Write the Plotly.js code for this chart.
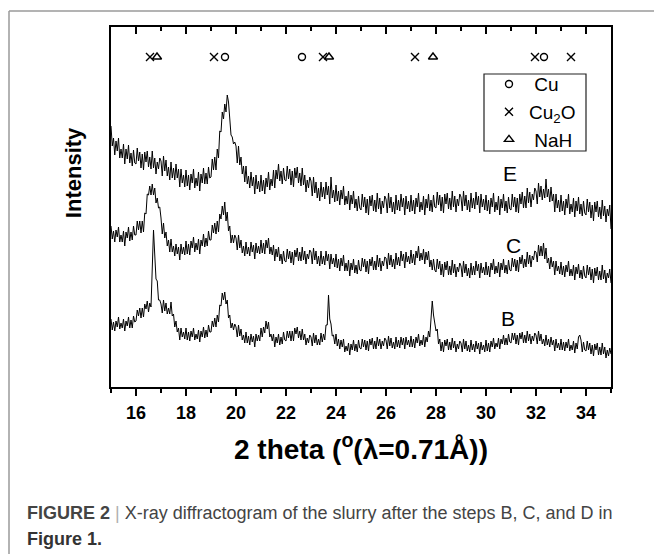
<!DOCTYPE html>
<html>
<head>
<meta charset="utf-8">
<script src="https://cdn.plot.ly/plotly-3.0.1.min.js"></script>
<style>
  html, body { margin: 0; padding: 0; background: #ffffff; }
  #chart { width: 654px; height: 554px; }
</style>
</head>
<body>
<div id="chart"></div>
<script>
// ---- sampling grid of 2-theta (degrees) ----
var twoThetaStart = 15.0;
var twoThetaStep = 0.05;

// ---- intensities (arbitrary units, curves stacked) ----
// one row per degree of 2-theta (15, 16, ... 34), plus the final point at 35
var intensityE = [
261,241,249,232,246,236,249,229,238,229,243,223,238,228,242,224,234,221,237,224,
223,239,226,235,219,233,217,235,225,236,220,230,218,236,219,229,213,225,218,229,
226,211,231,216,227,211,220,207,225,209,219,207,223,209,218,200,218,204,212,200,
217,201,212,197,213,204,218,199,209,201,215,196,213,204,219,203,214,203,220,209,
210,228,217,230,217,238,229,256,255,275,268,283,275,292,285,270,252,250,243,245,
241,224,241,222,230,213,221,205,221,203,211,199,215,201,210,193,212,198,206,195,
212,196,207,193,209,200,215,197,208,201,217,199,217,208,223,206,216,203,219,207,
206,221,208,218,202,216,200,219,209,220,204,214,201,219,202,212,195,207,199,210,
206,191,210,194,205,189,199,186,205,190,200,188,205,192,201,183,210,189,197,185,
202,186,196,182,197,188,201,182,191,183,196,177,192,183,196,179,188,176,191,179,
177,193,180,190,174,188,172,191,181,192,176,187,175,194,178,189,173,186,179,191,
188,174,194,179,190,175,185,173,192,177,187,176,193,180,189,172,191,178,186,175,
192,176,187,173,189,180,194,175,185,177,191,172,188,179,193,176,187,175,192,180,
179,195,182,192,176,190,174,193,183,194,178,189,177,196,180,191,175,188,181,193,
190,176,196,181,192,177,187,175,194,179,189,178,195,182,191,174,193,180,188,177,
192,176,187,173,189,180,194,175,185,177,191,172,188,179,193,176,186,174,190,178,
177,193,180,190,175,189,174,193,183,195,179,191,179,199,184,195,180,193,187,199,
196,183,204,190,201,187,198,189,208,190,198,185,200,186,193,175,193,179,187,175,
192,176,186,172,188,179,193,173,183,175,189,170,186,176,190,173,183,171,186,174,
172,188,175,185,169,182,166,185,175,186,170,180,168,187,171,181,165,178,171,182,
158];

var intensityC = [
161,148,156,145,157,150,160,145,152,145,156,141,155,149,160,146,155,147,161,152,
152,166,157,166,154,166,155,174,173,193,192,201,192,203,192,199,184,189,179,180,
169,153,164,149,155,141,147,135,148,135,141,131,143,133,140,127,143,133,140,132,
146,133,143,132,146,139,150,135,144,137,148,133,147,141,153,140,149,141,156,147,
147,162,154,164,153,166,155,173,168,181,172,185,166,175,156,161,144,152,144,152,
149,137,152,139,147,134,141,131,145,133,140,131,145,135,142,128,144,134,141,133,
147,134,144,133,147,139,149,133,140,132,142,126,138,130,140,126,133,123,136,126,
125,138,128,136,124,135,122,137,130,139,126,135,126,140,127,136,123,133,128,137,
135,123,139,127,136,123,131,121,136,123,131,122,136,126,133,118,133,123,129,120,
133,119,128,116,129,121,132,116,124,116,127,111,124,117,128,114,122,113,127,117,
116,129,120,128,115,126,113,128,121,130,117,126,117,132,120,129,116,126,121,130,
129,118,134,122,132,120,128,118,134,122,130,121,136,126,133,119,135,125,131,123,
137,124,133,122,136,129,141,126,134,127,138,123,135,127,136,120,127,117,128,117,
115,128,118,126,112,123,110,125,117,126,112,121,112,127,114,123,110,120,115,124,
121,110,126,114,123,111,119,109,124,112,121,112,126,116,123,109,124,114,120,112,
125,112,121,110,124,117,128,113,121,114,125,110,124,117,128,114,122,113,127,117,
116,129,120,128,116,127,115,130,123,132,119,128,120,135,123,132,120,131,127,136,
135,125,142,131,141,131,144,128,139,124,129,118,130,120,126,112,126,116,121,113,
125,112,121,110,122,115,126,111,118,111,122,107,120,113,123,109,117,108,121,111,
109,122,112,120,107,118,104,119,111,120,107,116,107,122,108,117,104,114,109,118,
104];

var intensityB = [
68,57,65,56,66,60,70,58,64,59,68,56,66,61,70,59,67,59,71,65,
66,77,71,79,69,79,70,83,78,86,75,84,80,120,157,132,108,106,87,87,
83,74,87,76,84,73,79,73,85,71,73,60,66,55,59,47,59,50,55,48,
59,47,55,46,56,50,59,47,53,48,57,45,56,50,60,49,57,50,62,55,
55,66,60,69,60,72,65,82,81,94,87,95,83,87,69,72,59,64,57,63,
60,50,62,51,58,47,52,44,55,44,51,42,53,45,51,40,53,46,52,46,
59,50,60,54,66,58,65,50,53,46,53,40,50,44,53,42,50,43,55,47,
46,56,49,56,46,56,46,59,53,60,49,56,47,58,47,53,42,49,44,52,
50,41,54,44,52,42,48,42,54,45,53,47,62,62,92,68,63,51,52,43,
53,41,48,38,47,40,48,35,41,36,44,32,43,37,47,36,43,35,47,39,
38,48,40,47,37,46,36,48,42,49,38,46,38,50,41,48,38,46,41,49,
47,38,51,41,49,39,45,38,50,40,47,39,50,42,49,38,50,42,47,40,
51,40,48,39,50,44,53,41,47,42,52,40,50,45,56,50,66,86,72,62,
56,58,43,48,36,45,35,47,41,48,37,45,37,49,39,46,35,43,38,46,
44,35,48,38,46,36,42,35,47,37,43,35,46,38,44,33,45,37,42,35,
47,36,44,35,46,40,49,38,44,40,49,38,48,43,52,42,49,42,53,45,
44,54,47,54,43,52,42,54,48,55,44,52,44,56,46,53,43,51,46,54,
52,43,56,46,53,43,48,41,52,42,48,40,50,42,47,36,48,39,44,37,
48,37,45,36,45,39,48,36,42,37,46,34,44,38,50,52,47,35,45,37,
36,46,37,44,33,42,31,43,37,44,32,40,32,44,33,40,29,37,31,39,
33];

// ---- reference peak positions (2-theta) for the phase markers ----
var cuPeaks   = [19.56, 22.64, 32.32];
var cu2oPeaks = [16.56, 19.12, 23.48, 27.16, 31.96, 33.40];
var nahPeaks  = [16.84, 23.72, 27.88];
var markerRowLevel = 330;

// ---- labels ----
var curveLabels = ["E", "C", "B"];
var labelTheta  = [30.96, 31.08, 30.88];
var labelLevel  = [214, 142, 69];
var phaseNames  = ["&nbsp;Cu", "Cu<sub>2</sub>O", "&nbsp;NaH"];
var xTickVals   = [16, 18, 20, 22, 24, 26, 28, 30, 32, 34];

function grid(n) {
  var out = [];
  for (var i = 0; i < n; i++) out.push(+(twoThetaStart + i * twoThetaStep).toFixed(2));
  return out;
}
function level(arr) { return arr.map(function () { return markerRowLevel; }); }

var FONT = "Liberation Sans, Arial, Helvetica, sans-serif";

var traces = [];
[intensityE, intensityC, intensityB].forEach(function (s) {
  traces.push({
    type: "scatter", mode: "lines",
    x: grid(s.length), y: s,
    line: { color: "#000000", width: 1 },
    showlegend: false, hoverinfo: "skip"
  });
});

var phaseSets = [cuPeaks, cu2oPeaks, nahPeaks];
var phaseSymbols = ["circle-open", "x-thin-open", "triangle-up-open"];
var phaseSizes = [7, 8, 8];
phaseSets.forEach(function (p, i) {
  traces.push({
    type: "scatter", mode: "markers",
    x: p, y: level(p), xaxis: "x2",
    name: phaseNames[i],
    marker: { symbol: phaseSymbols[i], size: phaseSizes[i], color: "#000000",
              line: { color: "#000000", width: 1.4 } },
    hoverinfo: "skip"
  });
});

var annotations = curveLabels.map(function (t, i) {
  return { x: labelTheta[i], y: labelLevel[i], xref: "x", yref: "y", text: t,
           showarrow: false, font: { family: FONT, size: 21, color: "#000" } };
});

// y-axis title (placed as a rotated annotation to match the reference position)
annotations.push({
  xref: "paper", yref: "paper", x: -0.076, y: 0.594, xanchor: "center", yanchor: "middle",
  textangle: -90, showarrow: false, text: "<b>Intensity</b>",
  font: { family: FONT, size: 22, color: "#000" }
});

annotations.push({
  xref: "paper", yref: "paper", x: -0.172, y: -0.35, xanchor: "left", yanchor: "middle",
  align: "left", showarrow: false,
  text: "<b>FIGURE 2</b> <span style='color:#b0b0b0'>|</span> X-ray diffractogram of the slurry after the steps B, C, and D in",
  font: { family: FONT, size: 18, color: "#444444" }
});
annotations.push({
  xref: "paper", yref: "paper", x: -0.172, y: -0.422, xanchor: "left", yanchor: "middle",
  align: "left", showarrow: false,
  text: "<b>Figure 1.</b>",
  font: { family: FONT, size: 18, color: "#333333" }
});

var layout = {
  width: 654, height: 554,
  margin: { l: 111, r: 43, t: 27, b: 167 },
  paper_bgcolor: "#ffffff", plot_bgcolor: "#ffffff",
  font: { family: FONT, color: "#000" },
  showlegend: true,
  legend: {
    x: 0.756, y: 0.894, xanchor: "left", yanchor: "top",
    bgcolor: "rgba(0,0,0,0)", borderwidth: 0,
    font: { family: FONT, size: 19, color: "#000" },
    tracegroupgap: 0
  },
  xaxis: {
    range: [15, 35], tickvals: xTickVals,
    ticks: "outside", ticklen: 7, tickwidth: 1.5, tickcolor: "#000",
    minor: { dtick: 1, tick0: 15, ticks: "outside", ticklen: 4, tickwidth: 1.5, tickcolor: "#000", showgrid: false },
    showline: true, linewidth: 2, linecolor: "#000", mirror: true,
    showgrid: false, zeroline: false,
    tickfont: { family: FONT, size: 18, color: "#000", weight: "bold" },
    ticklabelstandoff: 1,
    title: { text: "2 theta (<sup>o</sup>(λ=0.71Å))", standoff: 18,
             font: { family: FONT, size: 28, color: "#000", weight: "bold" } }
  },
  xaxis2: {
    range: [15, 35], overlaying: "x", side: "top", tickvals: xTickVals,
    ticks: "inside", ticklen: 7, tickwidth: 1.5, tickcolor: "#000",
    minor: { dtick: 1, tick0: 15, ticks: "inside", ticklen: 4, tickwidth: 1.5, tickcolor: "#000", showgrid: false },
    showticklabels: false, showline: false, showgrid: false, zeroline: false
  },
  yaxis: {
    range: [0, 360], showline: true, linewidth: 2, linecolor: "#000", mirror: true,
    ticks: "", showticklabels: false, showgrid: false, zeroline: false
  },
  shapes: [
    { type: "line", xref: "paper", yref: "paper", x0: -0.204, x1: 1.09, y0: 1.0444, y1: 1.0444,
      line: { color: "#9a9a9a", width: 1.5 } },
    { type: "line", xref: "paper", yref: "paper", x0: -0.204, x1: -0.204, y0: 1.0444, y1: -0.47,
      line: { color: "#9a9a9a", width: 1.5 } },
    { type: "rect", xref: "paper", yref: "paper", x0: 0.746, x1: 0.95, y0: 0.6556, y1: 0.8694,
      line: { color: "#222222", width: 1.2 }, fillcolor: "rgba(0,0,0,0)" }
  ],
  annotations: annotations
};

Plotly.newPlot("chart", traces, layout, { displayModeBar: false, staticPlot: true });
</script>
</body>
</html>
